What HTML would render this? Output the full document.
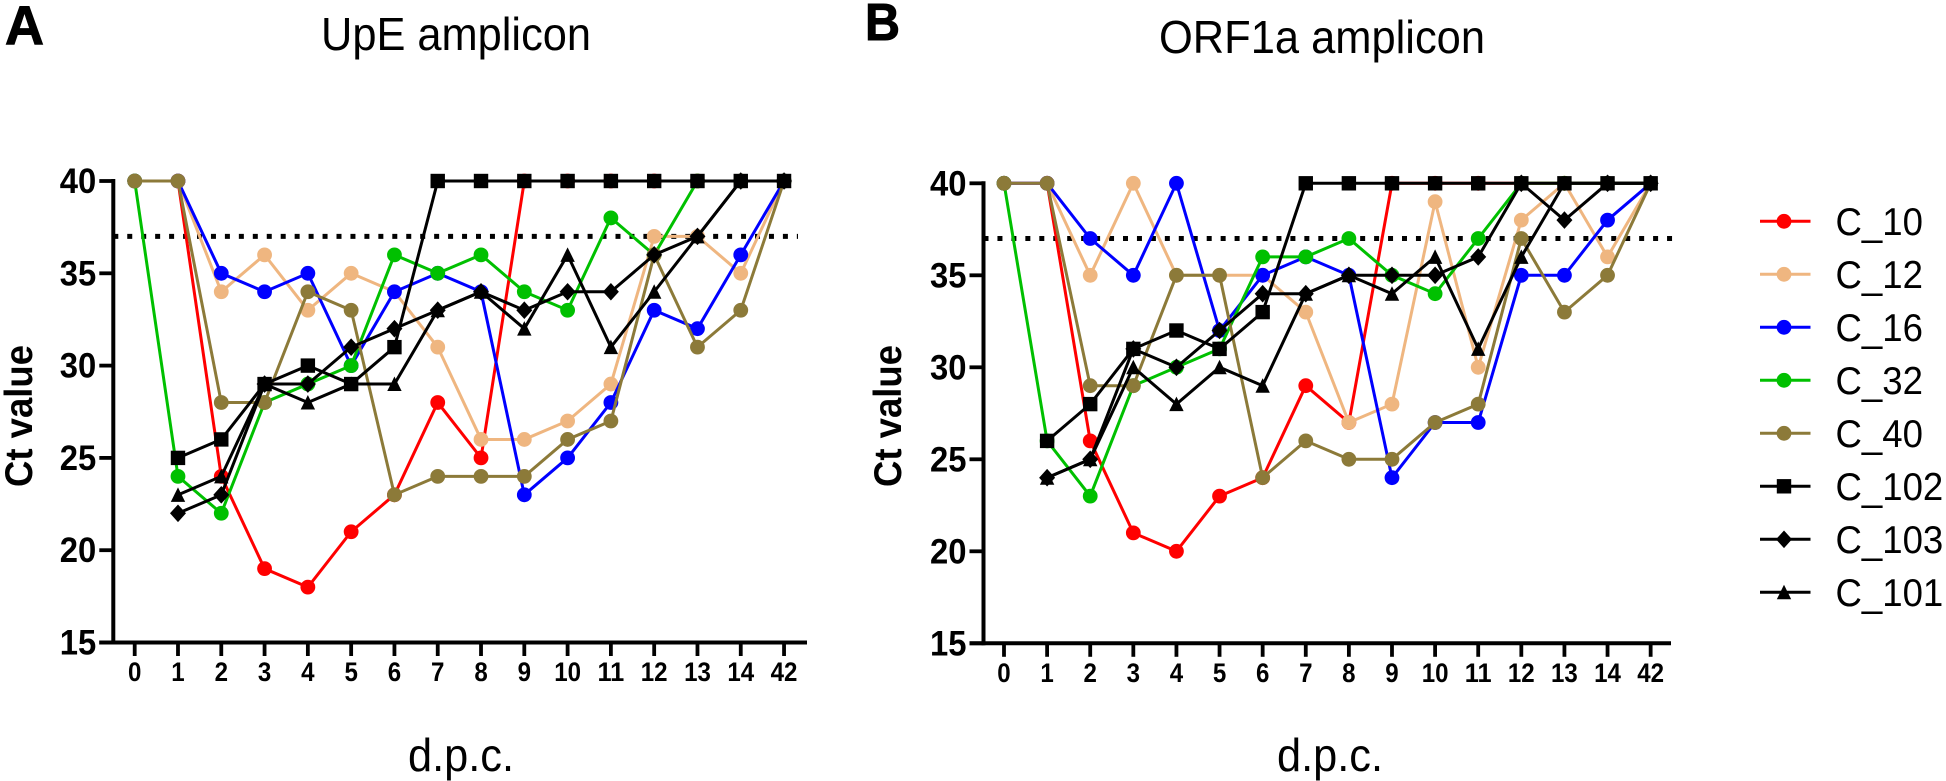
<!DOCTYPE html>
<html lang="en">
<head>
<meta charset="utf-8">
<title>Ct value by d.p.c. for UpE and ORF1a amplicons</title>
<style>
html,body{margin:0;padding:0;background:#fff;width:1946px;height:781px;overflow:hidden}
svg{display:block;font-family:"Liberation Sans",Arial,sans-serif}
</style>
</head>
<body>
<svg id="figure" xmlns="http://www.w3.org/2000/svg" width="1946" height="781" viewBox="0 0 1946 781">
  <rect width="1946" height="781" fill="#fff"/>
  <text x="5" y="44" font-size="55" font-weight="700" stroke="#000" stroke-width="1" textLength="39" lengthAdjust="spacingAndGlyphs">A</text>
  <text x="865" y="40" font-size="52" font-weight="700" stroke="#000" stroke-width="1" textLength="35" lengthAdjust="spacingAndGlyphs">B</text>
  <text x="321" y="50" font-size="46" textLength="270" lengthAdjust="spacingAndGlyphs">UpE amplicon</text>
  <text x="1159" y="53" font-size="46" textLength="326" lengthAdjust="spacingAndGlyphs">ORF1a amplicon</text>
  <text transform="translate(32 416) rotate(-90) translate(-71 0)" font-size="39" font-weight="700" textLength="142" lengthAdjust="spacingAndGlyphs">Ct value</text>
  <text transform="translate(901 416) rotate(-90) translate(-71 0)" font-size="39" font-weight="700" textLength="142" lengthAdjust="spacingAndGlyphs">Ct value</text>
  <text x="408" y="771" font-size="46" textLength="106" lengthAdjust="spacingAndGlyphs">d.p.c.</text>
  <text x="1277" y="771" font-size="46" textLength="106" lengthAdjust="spacingAndGlyphs">d.p.c.</text>
  <g id="panel-a"></g>
  <g id="panel-b"></g>
  <g id="legend"></g>
</svg>
<script>
// Shared categories and ticks
var dpcLabels = ['0','1','2','3','4','5','6','7','8','9','10','11','12','13','14','42'];
var ctTicks = [15,20,25,30,35,40];
var cutoffCt = [37];
var seriesNames = ['C_10','C_12','C_16','C_32','C_40','C_102','C_103','C_101'];

// Panel A: UpE amplicon
var upeC10  = [40,40,24,19,18,21,23,28,25,40,40,40,40,40,40,40];
var upeC12  = [40,40,34,36,33,35,34,31,26,26,27,29,37,37,35,40];
var upeC16  = [40,40,35,34,35,30,34,35,34,23,25,28,33,32,36,40];
var upeC32  = [40,24,22,28,29,30,36,35,36,34,33,38,36,40,40,40];
var upeC40  = [40,40,28,28,34,33,23,24,24,24,26,27,36,31,33,40];
var upeC102 = [null,25,26,29,30,29,31,40,40,40,40,40,40,40,40,40];
var upeC103 = [null,22,23,29,29,31,32,33,34,33,34,34,36,37,40,40];
var upeC101 = [null,23,24,29,28,29,29,33,34,32,36,31,34,37,40,40];

// Panel B: ORF1a amplicon
var orfC10  = [40,40,26,21,20,23,24,29,27,40,40,40,40,40,40,40];
var orfC12  = [40,40,35,40,35,35,35,33,27,28,39,30,38,40,36,40];
var orfC16  = [40,40,37,35,40,32,35,36,35,24,27,27,35,35,38,40];
var orfC32  = [40,26,23,29,30,31,36,36,37,35,34,37,40,40,40,40];
var orfC40  = [40,40,29,29,35,35,24,26,25,25,27,28,37,33,35,40];
var orfC102 = [null,26,28,31,32,31,33,40,40,40,40,40,40,40,40,40];
var orfC103 = [null,24,25,31,30,32,34,34,35,35,35,36,40,38,40,40];
var orfC101 = [null,24,25,30,28,30,29,34,35,34,36,31,36,40,40,40];

var upeSeries = [upeC10,upeC12,upeC16,upeC32,upeC40,upeC102,upeC103,upeC101];
var orfSeries = [orfC10,orfC12,orfC16,orfC32,orfC40,orfC102,orfC103,orfC101];

var seriesColor = {'C_10':'#ff0000','C_12':'#efb680','C_16':'#0000ff','C_32':'#00c000','C_40':'#8c7a39','C_102':'#000000','C_103':'#000000','C_101':'#000000'};
var seriesMarker = {'C_10':'circle','C_12':'circle','C_16':'circle','C_32':'circle','C_40':'circle','C_102':'square','C_103':'diamond','C_101':'triangle'};

var NS = 'http://www.w3.org/2000/svg';
function mk(tag, parent) {
  var e = document.createElementNS(NS, tag);
  parent.appendChild(e);
  return e;
}
function drawMarker(parent, kind, cx, cy, color) {
  var m;
  if (kind === 'circle') {
    m = mk('circle', parent);
    m.setAttribute('cx', cx); m.setAttribute('cy', cy); m.setAttribute('r', 7.4);
  } else if (kind === 'square') {
    m = mk('rect', parent);
    m.setAttribute('x', cx - 7.2); m.setAttribute('y', cy - 7.2);
    m.setAttribute('width', 14.4); m.setAttribute('height', 14.4);
  } else if (kind === 'diamond') {
    m = mk('polygon', parent);
    m.setAttribute('points', cx+','+(cy-8.8)+' '+(cx+8)+','+cy+' '+cx+','+(cy+8.8)+' '+(cx-8)+','+cy);
  } else {
    m = mk('polygon', parent);
    m.setAttribute('points', cx+','+(cy-7.5)+' '+(cx+7.2)+','+(cy+7)+' '+(cx-7.2)+','+(cy+7));
  }
  m.setAttribute('fill', color);
  
  
  return m;
}
function drawPanel(root, cfg, seriesList) {
  function xAt(i) { return cfg.x0 + i * cfg.step; }
  function yAt(v) { return cfg.y40 + (40 - v) * cfg.unit; }
  var yBase = yAt(ctTicks[0]);

  // Cutoff line
  var cut = mk('line', root);
  
  
  cut.setAttribute('x1', cfg.spineX); cut.setAttribute('x2', cfg.dotEnd);
  cut.setAttribute('y1', yAt(cutoffCt[0])); cut.setAttribute('y2', yAt(cutoffCt[0]));
  cut.setAttribute('stroke', '#000'); cut.setAttribute('stroke-width', 5);
  cut.setAttribute('stroke-dasharray', '5 8.95');

  // Series
  seriesList.forEach(function (vals, s) {
    var name = seriesNames[s];
    var g = mk('g', root);
    
    
    var pts = [];
    vals.forEach(function (v, i) { if (v !== null) pts.push(xAt(i) + ',' + yAt(v)); });
    var pl = mk('polyline', g);
    
    
    pl.setAttribute('points', pts.join(' '));
    pl.setAttribute('fill', 'none');
    pl.setAttribute('stroke', seriesColor[name]);
    pl.setAttribute('stroke-width', 3);
    vals.forEach(function (v, i) {
      if (v !== null) drawMarker(g, seriesMarker[name], xAt(i), yAt(v), seriesColor[name]);
    });
  });

  // Axes
  var ySp = mk('line', root);
  
  
  ySp.setAttribute('x1', cfg.spineX); ySp.setAttribute('x2', cfg.spineX);
  ySp.setAttribute('y1', cfg.y40 - 2); ySp.setAttribute('y2', yBase + 2);
  ySp.setAttribute('stroke', '#000'); ySp.setAttribute('stroke-width', 4);

  var xSp = mk('line', root);
  
  
  xSp.setAttribute('x1', cfg.spineX - 14); xSp.setAttribute('x2', cfg.xEnd);
  xSp.setAttribute('y1', yBase); xSp.setAttribute('y2', yBase);
  xSp.setAttribute('stroke', '#000'); xSp.setAttribute('stroke-width', 4);

  ctTicks.forEach(function (t) {
    var tk = mk('line', root);
    
    
    tk.setAttribute('x1', cfg.spineX - 14); tk.setAttribute('x2', cfg.spineX);
    tk.setAttribute('y1', yAt(t)); tk.setAttribute('y2', yAt(t));
    tk.setAttribute('stroke', '#000'); tk.setAttribute('stroke-width', 3.8);
    var lb = mk('text', root);
    
    
    lb.setAttribute('x', cfg.spineX - 17); lb.setAttribute('y', yAt(t) + 12);
    lb.setAttribute('font-size', 35); lb.setAttribute('font-weight', 700);
    lb.setAttribute('text-anchor', 'end');
    lb.setAttribute('textLength', 36.5);
    lb.setAttribute('lengthAdjust', 'spacingAndGlyphs');
    lb.textContent = t;
  });
  dpcLabels.forEach(function (d, i) {
    var tk = mk('line', root);
    
    
    tk.setAttribute('x1', xAt(i)); tk.setAttribute('x2', xAt(i));
    tk.setAttribute('y1', yBase); tk.setAttribute('y2', yBase + 13.5);
    tk.setAttribute('stroke', '#000'); tk.setAttribute('stroke-width', 3.8);
    var lb = mk('text', root);
    
    
    lb.setAttribute('x', xAt(i)); lb.setAttribute('y', yBase + 38.5);
    lb.setAttribute('font-size', 27); lb.setAttribute('font-weight', 700);
    lb.setAttribute('text-anchor', 'middle');
    lb.setAttribute('textLength', 13.4 * d.length);
    lb.setAttribute('lengthAdjust', 'spacingAndGlyphs');
    lb.textContent = d;
  });
}
drawPanel(document.getElementById('panel-a'),
  {x0:134.7, step:43.29, y40:181, unit:18.46, spineX:113.3, dotEnd:798, xEnd:807}, upeSeries);
drawPanel(document.getElementById('panel-b'),
  {x0:1004, step:43.11, y40:183.3, unit:18.4, spineX:983.5, dotEnd:1675, xEnd:1671}, orfSeries);

// Legend
var legendRoot = document.getElementById('legend');
seriesNames.forEach(function (name, i) {
  var ly = 221.3 + i * 53;
  var g = mk('g', legendRoot);
  
  
  var ln = mk('line', g);
  
  
  ln.setAttribute('x1', 1760); ln.setAttribute('x2', 1810.5);
  ln.setAttribute('y1', ly); ln.setAttribute('y2', ly);
  ln.setAttribute('stroke', seriesColor[name]); ln.setAttribute('stroke-width', 3);
  drawMarker(g, seriesMarker[name], 1784, ly, seriesColor[name]);
  var tx = mk('text', g);
  
  
  tx.setAttribute('x', 1835.5); tx.setAttribute('y', ly + 13.7);
  tx.setAttribute('font-size', 39);
  tx.setAttribute('textLength', 20.35 * name.length + 6);
  tx.setAttribute('lengthAdjust', 'spacingAndGlyphs');
  tx.textContent = name;
});
</script>
</body>
</html>
